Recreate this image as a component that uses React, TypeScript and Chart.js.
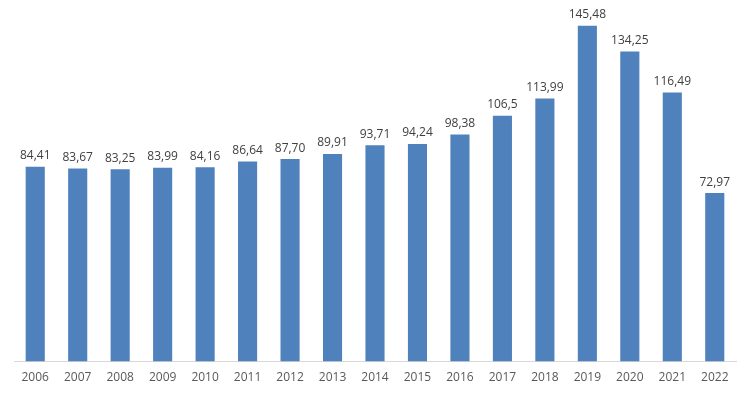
import React, { useEffect, useRef } from "react";
import { Chart, registerables } from "chart.js";

Chart.register(...registerables);

const years = ["2006","2007","2008","2009","2010","2011","2012","2013","2014","2015","2016","2017","2018","2019","2020","2021","2022"];
const values = [84.41, 83.67, 83.25, 83.99, 84.16, 86.64, 87.70, 89.91, 93.71, 94.24, 98.38, 106.5, 113.99, 145.48, 134.25, 116.49, 72.97];
const valueLabels = ["84,41","83,67","83,25","83,99","84,16","86,64","87,70","89,91","93,71","94,24","98,38","106,5","113,99","145,48","134,25","116,49","72,97"];

const FONT = "'Open Sans', 'Noto Sans', sans-serif";

const labelPlugin = {
  id: "valueLabels",
  afterDatasetsDraw(chart: any) {
    const ctx = chart.ctx;
    const meta = chart.getDatasetMeta(0);
    ctx.save();
    ctx.font = `12px ${FONT}`;
    ctx.fillStyle = "#404040";
    ctx.textAlign = "center";
    ctx.textBaseline = "bottom";
    meta.data.forEach((bar: any, i: number) => {
      ctx.fillText(valueLabels[i], bar.x, bar.y - 5);
    });
    ctx.restore();
  },
};

export default function App() {
  const ref = useRef<HTMLCanvasElement | null>(null);
  useEffect(() => {
    document.body.style.margin = "0";
    const chart = new Chart(ref.current!, {
      type: "bar",
      data: {
        labels: years,
        datasets: [
          {
            data: values,
            backgroundColor: "#4F81BD",
            categoryPercentage: 1,
            barPercentage: 0.45,
          },
        ],
      },
      options: {
        animation: false,
        responsive: false,
        maintainAspectRatio: false,
        layout: { padding: { left: 14, right: 14, top: 0, bottom: 0 } },
        plugins: { legend: { display: false }, tooltip: { enabled: false } },
        scales: {
          x: {
            grid: { display: false, drawTicks: false },
            border: { display: true, color: "#D9D9D9", width: 1 },
            ticks: { color: "#595959", font: { family: FONT, size: 12 }, padding: 9 },
          },
          y: {
            display: false,
            min: 0,
            max: 156.6,
          },
        },
      },
      plugins: [labelPlugin],
    });
    return () => chart.destroy();
  }, []);
  return (
    <div style={{ position: "absolute", left: 0, top: 0, width: 750, height: 394, background: "#fff" }}>
      <canvas ref={ref} width={750} height={394} />
    </div>
  );
}
